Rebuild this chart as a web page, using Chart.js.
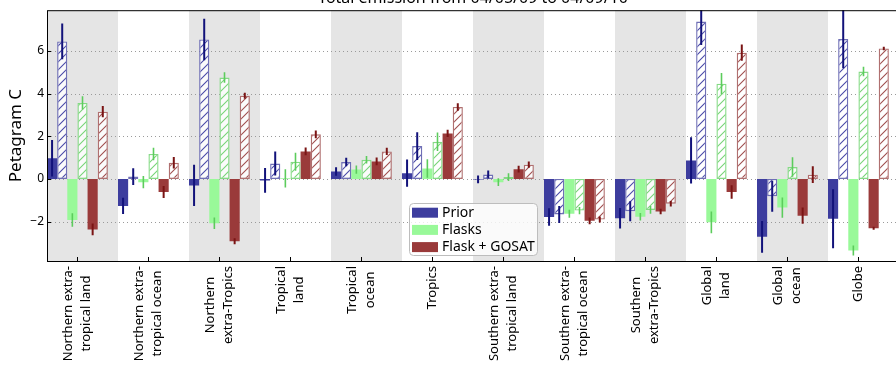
<!DOCTYPE html>
<html><head><meta charset="utf-8">
<script src="https://cdn.jsdelivr.net/npm/chart.js@4/dist/chart.umd.min.js"></script>
<style>html,body{margin:0;padding:0;width:896px;height:367px;overflow:hidden;background:#fff}canvas{display:block}</style>
</head><body><canvas id="c" width="910" height="367"></canvas>
<script>
// ---------- data ----------
const chartTitle = 'Total emission from 04/05/09 to 04/09/10';
const yAxisTitle = 'Petagram C';
const categories = [
  ['Northern extra-', 'tropical land'], ['Northern extra-', 'tropical ocean'], ['Northern', 'extra-Tropics'],
  ['Tropical', 'land'], ['Tropical', 'ocean'], ['Tropics'],
  ['Southern extra-', 'tropical land'], ['Southern extra-', 'tropical ocean'], ['Southern', 'extra-Tropics'],
  ['Global', 'land'], ['Global', 'ocean'], ['Globe']
];
const yTicks = [-2, 0, 2, 4, 6];
const legendNames = ['Prior', 'Flasks', 'Flask + GOSAT'];

const priorSolid      = [0.97, -1.26, -0.30, -0.07, 0.35, 0.27, -0.02, -1.78, -1.84, 0.87, -2.71, -1.86];
const priorSolidErr   = [0.85, 0.38, 0.97, 0.58, 0.20, 0.64, 0.18, 0.41, 0.48, 1.08, 0.74, 1.38];
const priorHatch      = [6.44, 0.11, 6.53, 0.72, 0.79, 1.54, 0.21, -1.66, -1.51, 7.37, -0.81, 6.55];
const priorHatchErr   = [0.84, 0.39, 0.97, 0.56, 0.20, 0.65, 0.19, 0.40, 0.47, 1.10, 0.73, 1.37];
const flasksSolid     = [-1.92, -0.15, -2.07, 0.03, 0.44, 0.49, -0.15, -1.63, -1.77, -2.03, -1.34, -3.35];
const flasksSolidErr  = [0.32, 0.29, 0.27, 0.43, 0.19, 0.43, 0.18, 0.19, 0.18, 0.51, 0.47, 0.23];
const flasksHatch     = [3.56, 1.17, 4.75, 0.81, 0.90, 1.74, 0.09, -1.48, -1.45, 4.46, 0.56, 5.03];
const flasksHatchErr  = [0.31, 0.29, 0.25, 0.42, 0.18, 0.43, 0.18, 0.17, 0.18, 0.50, 0.46, 0.22];
const gosatSolid      = [-2.36, -0.61, -2.92, 1.29, 0.82, 2.13, 0.46, -1.96, -1.52, -0.61, -1.72, -2.31];
const gosatSolidErr   = [0.27, 0.28, 0.14, 0.18, 0.18, 0.17, 0.16, 0.16, 0.13, 0.32, 0.38, 0.07];
const gosatHatch      = [3.15, 0.76, 3.90, 2.09, 1.29, 3.37, 0.67, -1.90, -1.16, 5.91, 0.20, 6.11];
const gosatHatchErr   = [0.26, 0.27, 0.14, 0.18, 0.17, 0.18, 0.15, 0.14, 0.13, 0.38, 0.39, 0.08];

// ---------- styles ----------
const FONT = '"Noto Sans", "DejaVu Sans", sans-serif';
const solidColors = ['#3d3d9e', '#99f999', '#9a3a3a'];
const errColors   = ['#12127a', '#5ccc5c', '#7a1414'];
const hatchLine   = ['#4a4aa8', '#78d478', '#a04f4f'];
const hatchBorder = ['#7070b6', '#84da84', '#b07070'];
const groupWidth = 6 / 7;

const canvas = document.getElementById('c');
const ctx0 = canvas.getContext('2d');
function hatch(color) {
  const s = 8, t = document.createElement('canvas');
  t.width = s; t.height = s;
  const g = t.getContext('2d');
  g.fillStyle = 'rgba(255,255,255,0.85)';
  g.fillRect(0, 0, s, s);
  g.strokeStyle = color; g.lineWidth = 1.1;
  g.beginPath();
  g.moveTo(-1, s + 1); g.lineTo(s + 1, -1);
  g.moveTo(-1, 1); g.lineTo(1, -1);
  g.moveTo(s - 1, s + 1); g.lineTo(s + 1, s - 1);
  g.stroke();
  return ctx0.createPattern(t, 'repeat');
}

const seriesVals = [priorSolid, priorHatch, flasksSolid, flasksHatch, gosatSolid, gosatHatch];
const seriesErrs = [priorSolidErr, priorHatchErr, flasksSolidErr, flasksHatchErr, gosatSolidErr, gosatHatchErr];
const seriesLabels = ['Prior', 'Prior (hatched)', 'Flasks', 'Flasks (hatched)', 'Flask + GOSAT', 'Flask + GOSAT (hatched)'];

const datasets = seriesVals.map((vals, k) => {
  const g = Math.floor(k / 2), hatched = k % 2 === 1;
  return {
    label: seriesLabels[k],
    data: vals.map((v, i) => ({ x: i, y: v })),
    backgroundColor: hatched ? hatch(hatchLine[g]) : solidColors[g],
    borderColor: hatched ? hatchBorder[g] : solidColors[g],
    borderWidth: hatched ? 1.4 : 0,
    borderSkipped: false,
    categoryPercentage: groupWidth,
    barPercentage: 1
  };
});

const W = canvas.width, AREA_RIGHT = 899, AREA_TOP = 5, AREA_BOTTOM = 261, AREA_LEFT = 47;

const decor = {
  id: 'decor',
  beforeDatasetsDraw(chart) {
    const { ctx, chartArea: a, scales: { x, y } } = chart;
    ctx.save();
    ctx.fillStyle = '#e5e5e5';
    categories.forEach((c, i) => {
      if (i % 2) return;
      const x0 = x.getPixelForValue(i - groupWidth / 2), x1 = x.getPixelForValue(i + 1 - groupWidth / 2);
      ctx.fillRect(x0, a.top, x1 - x0, a.bottom - a.top);
    });
    ctx.strokeStyle = '#9a9a9a'; ctx.lineWidth = 1; ctx.setLineDash([1, 3]);
    yTicks.forEach(t => {
      const py = Math.round(y.getPixelForValue(t)) + 0.5;
      ctx.beginPath(); ctx.moveTo(a.left, py); ctx.lineTo(a.right, py); ctx.stroke();
    });
    ctx.restore();
  },
  afterDatasetsDraw(chart) {
    const { ctx, chartArea: a, scales: { x, y } } = chart;
    ctx.save();
    ctx.beginPath(); ctx.rect(a.left, a.top, a.right - a.left, a.bottom - a.top); ctx.clip();
    seriesVals.forEach((vals, k) => {
      const meta = chart.getDatasetMeta(k), g = Math.floor(k / 2);
      ctx.strokeStyle = errColors[g]; ctx.lineWidth = g === 1 ? 1.6 : 2;
      ctx.beginPath();
      meta.data.forEach((bar, i) => {
        const e = seriesErrs[k][i];
        ctx.moveTo(bar.x, y.getPixelForValue(vals[i] - e));
        ctx.lineTo(bar.x, y.getPixelForValue(vals[i] + e));
      });
      ctx.stroke();
    });
    ctx.restore();
  },
  afterDraw(chart) {
    const { ctx, chartArea: a, scales: { x, y } } = chart;
    ctx.save();
    ctx.strokeStyle = '#000'; ctx.lineWidth = 1;
    ctx.strokeRect(a.left + 0.5, a.top + 0.5, a.right - a.left, a.bottom - a.top);
    ctx.beginPath();
    yTicks.forEach(t => { const py = Math.round(y.getPixelForValue(t)) + 0.5; ctx.moveTo(a.left, py); ctx.lineTo(a.left + 4, py); });
    categories.forEach((c, i) => { const px = Math.round(x.getPixelForValue(i)) + 0.5; ctx.moveTo(px, a.bottom); ctx.lineTo(px, a.bottom - 4); });
    ctx.stroke();
    ctx.fillStyle = '#000';
    ctx.font = '13px ' + FONT;
    ctx.textBaseline = 'middle';
    categories.forEach((lines, i) => {
      const px = x.getPixelForValue(i);
      const maxW = Math.max(...lines.map(l => ctx.measureText(l).width));
      ctx.save();
      ctx.translate(px, a.bottom + 5 + maxW / 2);
      ctx.rotate(-Math.PI / 2);
      ctx.textAlign = 'center';
      lines.forEach((l, j) => ctx.fillText(l, 0, (j - (lines.length - 1) / 2) * 17.7));
      ctx.restore();
    });
    ctx.save();
    ctx.font = '17px ' + FONT;
    ctx.translate(16, (a.top + a.bottom) / 2);
    ctx.rotate(-Math.PI / 2);
    ctx.textAlign = 'center'; ctx.textBaseline = 'middle';
    ctx.fillText(yAxisTitle, 0, 0);
    ctx.restore();
    ctx.font = '16px ' + FONT;
    ctx.textAlign = 'center'; ctx.textBaseline = 'alphabetic';
    ctx.fillText(chartTitle, (a.left + a.right) / 2, 3);
    const lx = 409, ly = 203, lw = 128, lh = 52;
    ctx.beginPath();
    ctx.roundRect(lx + 0.5, ly + 0.5, lw, lh, 4);
    ctx.fillStyle = 'rgba(255,255,255,0.8)'; ctx.fill();
    ctx.strokeStyle = '#bdbdbd'; ctx.lineWidth = 1; ctx.stroke();
    ctx.font = '14px ' + FONT; ctx.textAlign = 'left'; ctx.textBaseline = 'middle';
    legendNames.forEach((n, i) => {
      const sy = ly + 4.7 + i * 17.2;
      ctx.fillStyle = solidColors[i];
      ctx.fillRect(lx + 3, sy, 26, 10);
      ctx.fillStyle = '#000';
      ctx.fillText(n, lx + 33, sy + 5);
    });
    ctx.restore();
  }
};

new Chart(canvas, {
  type: 'bar',
  data: { datasets },
  options: {
    responsive: false,
    animation: false,
    devicePixelRatio: 1,
    layout: { padding: { left: 0, right: W - AREA_RIGHT, top: AREA_TOP, bottom: 367 - AREA_BOTTOM } },
    plugins: { legend: { display: false }, tooltip: { enabled: false }, title: { display: false } },
    scales: {
      x: {
        type: 'linear',
        min: -groupWidth / 2,
        max: categories.length - groupWidth / 2,
        offset: false,
        grid: { display: false, drawTicks: false },
        border: { display: false },
        ticks: { display: false },
        afterBuildTicks(s) { s.ticks = categories.map((c, i) => ({ value: i })); },
        afterFit(s) { s.height = 0; }
      },
      y: {
        min: -3.84,
        max: 7.9,
        grid: { display: false, drawTicks: false },
        border: { display: false },
        ticks: {
          color: '#000', padding: 3, font: { family: FONT, size: 12 },
          callback: v => v < 0 ? '\u2212' + Math.abs(v) : String(v)
        },
        afterBuildTicks(s) { s.ticks = yTicks.map(v => ({ value: v })); },
        afterFit(s) { s.width = AREA_LEFT; }
      }
    }
  },
  plugins: [decor]
});
</script>
</body></html>
